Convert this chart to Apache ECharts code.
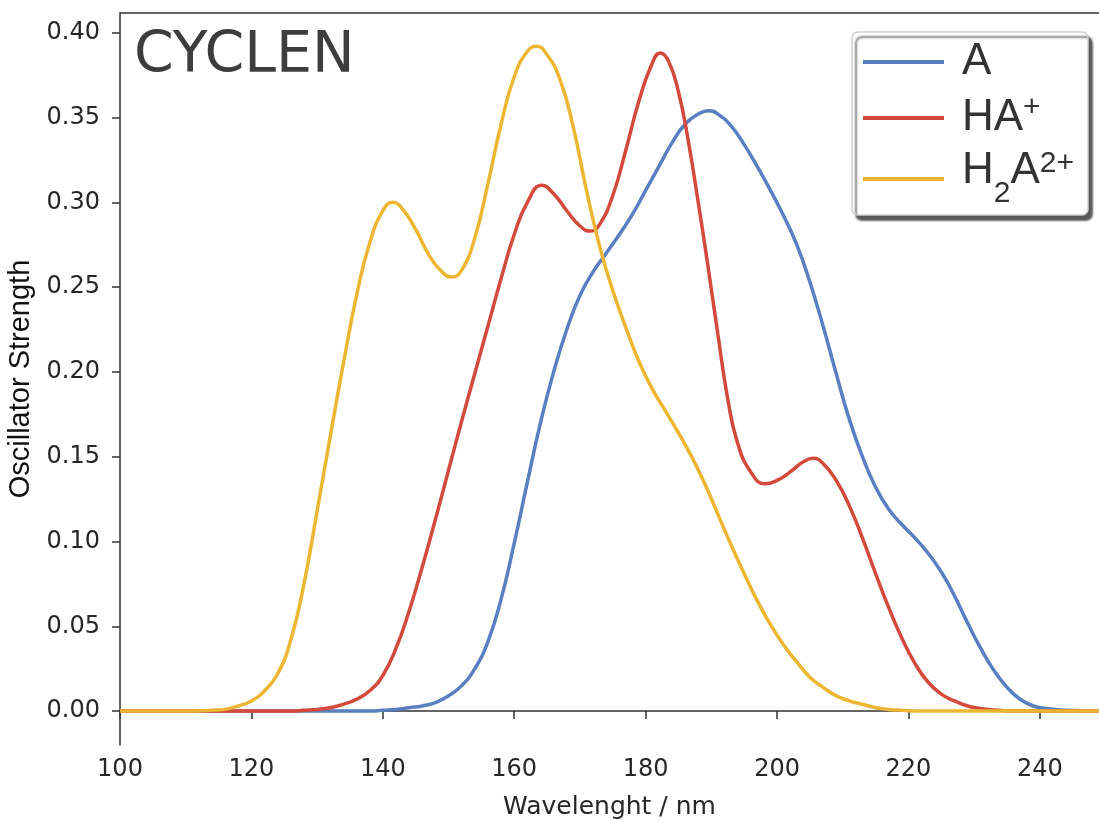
<!DOCTYPE html>
<html>
<head>
<meta charset="utf-8">
<script src="https://cdn.jsdelivr.net/npm/echarts@6/dist/echarts.min.js"></script>
<style>html,body{margin:0;padding:0;background:#fff}#c{width:1099px;height:821px}</style>
</head>
<body>
<div id="c"></div>
<script>
// ---- data ----
var seriesNames = ['A', 'HA+', 'H2A2+'];
var xTicks = [100, 120, 140, 160, 180, 200, 220, 240];
var yTicks = [0, 0.05, 0.10, 0.15, 0.20, 0.25, 0.30, 0.35, 0.40];

// A
var wlA = [100,138,140,142,144,146,148,150,152,154,156,158,160,162,164,166,168,170,172,174,176,178,180,182,184,186,188,189.6,191,193,195,197,199,201,203,205,207,209,211,213,215,217,219,221,223,225,227,229,231,233,235,237,239,241,244,249];
var valA = [0,0,0.0005,0.001,0.002,0.003,0.005,0.009,0.015,0.025,0.041,0.066,0.099,0.135,0.170,0.200,0.225,0.245,0.259,0.270,0.281,0.293,0.307,0.321,0.335,0.346,0.352,0.354,0.352,0.345,0.334,0.321,0.307,0.292,0.275,0.253,0.227,0.199,0.172,0.150,0.132,0.119,0.110,0.102,0.093,0.082,0.068,0.052,0.037,0.024,0.014,0.007,0.003,0.0015,0.0005,0];

// HA+
var wlHA = [100,120,126,128,130,132,134,136,138,140,142,144,146,148,150,152,154,156,158,160,162,164.2,166,168,170,171.6,173,175,177,179,181,182.2,183.5,185,186.5,188,189.5,191,192.5,194,196,198.2,200,202,204,205.5,207,209,211,213,215,217,219,221,223,225,227,229,231,233,236,249];
var valHA = [0,0,0,0.0005,0.001,0.002,0.004,0.007,0.012,0.021,0.037,0.059,0.085,0.113,0.142,0.171,0.199,0.227,0.255,0.281,0.300,0.310,0.305,0.295,0.286,0.283,0.287,0.304,0.331,0.360,0.382,0.388,0.383,0.365,0.336,0.300,0.262,0.222,0.184,0.158,0.141,0.134,0.136,0.141,0.147,0.149,0.146,0.136,0.121,0.102,0.081,0.061,0.043,0.028,0.017,0.010,0.006,0.003,0.0015,0.0007,0,0];

// H2A2+
var wlH2A = [100,110,114,116,118,120,122,124,126,128,130,132,134,136,138,140,141.5,143,145,147,149,150.5,152,154,156,158,160,162,163.4,165,167,169,171,173,175,177,179,181,183,185,187,189,191,193,195,197,199,201,203,205,207,209,211,213,215,217,219,222,249];
var valH2A = [0,0,0.0005,0.001,0.003,0.006,0.012,0.022,0.042,0.075,0.118,0.162,0.205,0.245,0.276,0.295,0.300,0.296,0.284,0.269,0.259,0.256,0.260,0.279,0.311,0.346,0.374,0.389,0.392,0.387,0.372,0.344,0.307,0.274,0.248,0.226,0.206,0.190,0.177,0.164,0.150,0.134,0.116,0.098,0.081,0.065,0.051,0.039,0.029,0.020,0.014,0.009,0.006,0.004,0.002,0.001,0.0005,0,0];

var colors = ['#5a7fc1', '#d34a3d', '#ecb632'];

function pairs(xs, ys) { return xs.map(function (x, i) { return [x, ys[i]]; }); }

var legendRich = {
  sp: { width: 13 },
  n: { fontSize: 44, lineHeight: 50, fontFamily: 'Liberation Sans', color: '#333' },
  sup: { fontSize: 30, lineHeight: 42, verticalAlign: 'top', fontFamily: 'Liberation Sans', color: '#333' },
  n3: { fontSize: 44, lineHeight: 60, verticalAlign: 'top', fontFamily: 'Liberation Sans', color: '#333' },
  sub3: { fontSize: 30, lineHeight: 15, verticalAlign: 'bottom', fontFamily: 'Liberation Sans', color: '#333' },
  sup3: { fontSize: 30, lineHeight: 54, verticalAlign: 'top', fontFamily: 'Liberation Sans', color: '#333' }
};
var legendFmt = {
  'A': '{sp|}{n|A}',
  'HA+': '{sp|}{n|HA}{sup|+}',
  'H2A2+': '{sp|}{n3|H}{sub3|2}{n3|A}{sup3|2+}'
};

var chart = echarts.init(document.getElementById('c'), null, { renderer: 'canvas' });
var axisColor = '#333';
chart.setOption({
  animation: false,
  backgroundColor: '#fff',
  grid: { left: 120, right: 0, top: 13, bottom: 76, containLabel: false, outerBoundsMode: 'none' },
  title: {
    text: 'CYCLEN', left: 129, top: 24,
    textStyle: { fontFamily: 'DejaVu Sans', fontSize: 57, fontWeight: 'normal', color: '#3d3d3d' }
  },
  legend: {
    orient: 'vertical', left: 852, top: 32,
    padding: [8, 14, 6, 11], itemGap: 9,
    icon: 'rect', itemWidth: 81, itemHeight: 4,
    backgroundColor: '#fff', borderColor: '#d0d0d0', borderWidth: 1.5, borderRadius: 6,
    shadowColor: 'rgba(60,60,60,0.85)', shadowBlur: 2, shadowOffsetX: 4, shadowOffsetY: 5,
    data: seriesNames,
    formatter: function (name) { return legendFmt[name]; },
    textStyle: { rich: legendRich, color: '#333' }
  },
  xAxis: [{
    type: 'value', min: 100, max: 249,
    name: 'Wavelenght / nm', nameLocation: 'middle', nameGap: 50,
    nameTextStyle: { fontFamily: 'DejaVu Sans', fontSize: 25, color: '#262626' },
    axisLine: { show: true, lineStyle: { color: axisColor, width: 1.5 } },
    axisTick: { show: true, length: 8, customValues: xTicks, lineStyle: { color: axisColor, width: 1.5 } },
    axisLabel: { customValues: xTicks, margin: 13, fontFamily: 'DejaVu Sans', fontSize: 24, color: '#262626' },
    splitLine: { show: false }
  }, {
    type: 'value', position: 'top', min: 100, max: 249,
    axisLine: { show: true, lineStyle: { color: axisColor, width: 1.5 } },
    axisTick: { show: false }, axisLabel: { show: false }, splitLine: { show: false }
  }],
  yAxis: {
    type: 'value', min: -0.02, max: 0.4116,
    name: 'Oscillator Strength', nameLocation: 'middle', nameGap: 82,
    nameTextStyle: { fontFamily: 'Liberation Sans', fontSize: 29, color: '#111' },
    axisLine: { show: true, lineStyle: { color: axisColor, width: 1.5 } },
    axisTick: { show: true, length: 8, customValues: yTicks, lineStyle: { color: axisColor, width: 1.5 } },
    axisLabel: { customValues: yTicks, margin: 20, fontFamily: 'DejaVu Sans', fontSize: 24, color: '#262626',
      formatter: function (v) { return v.toFixed(2); } },
    splitLine: { show: false }
  },
  series: [
    { name: seriesNames[0], type: 'line', data: pairs(wlA, valA), smooth: 0.5, showSymbol: false,
      lineStyle: { color: colors[0], width: 3.5 }, itemStyle: { color: colors[0] }, z: 3 },
    { name: seriesNames[1], type: 'line', data: pairs(wlHA, valHA), smooth: 0.5, showSymbol: false,
      lineStyle: { color: colors[1], width: 3.5 }, itemStyle: { color: colors[1] }, z: 4 },
    { name: seriesNames[2], type: 'line', data: pairs(wlH2A, valH2A), smooth: 0.5, showSymbol: false,
      lineStyle: { color: colors[2], width: 3.5 }, itemStyle: { color: colors[2] }, z: 5 }
  ]
});
</script>
</body>
</html>
